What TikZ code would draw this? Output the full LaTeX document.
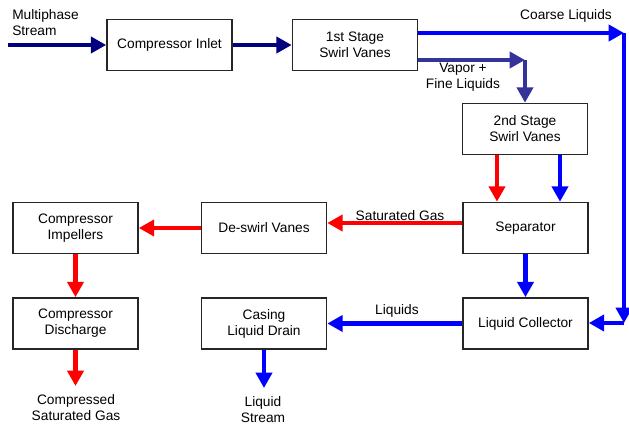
\documentclass[tikz,border=0pt]{standalone}
\usepackage{fontspec}
\setmainfont{Liberation Sans}
\usetikzlibrary{arrows.meta}
\definecolor{navyc}{HTML}{000080}
\definecolor{vapc}{HTML}{333399}
\definecolor{bluec}{HTML}{0000FF}
\definecolor{redc}{HTML}{FF0000}
\begin{document}
\begin{tikzpicture}[x=0.75pt,y=-0.75pt,
  box/.style={draw=black!85,line width=1.2pt,fill=white,minimum width=93.75pt,minimum height=38.25pt,inner sep=0pt,align=center,font=\fontsize{10.3}{12}\selectfont},
  lbl/.style={font=\fontsize{10.3}{12}\selectfont,align=center,inner sep=0pt},
  flow/.style={line width=3.3pt,-{Triangle[length=11.5pt,width=12pt]}}]
\useasboundingbox (0,0) rectangle (629,430);
% boxes
\node[box] (inlet) at (169.5,45) {Compressor Inlet};
\node[box] (s1) at (355,45) {1st Stage\\Swirl Vanes};
\node[box] (s2) at (525,129) {2nd Stage\\Swirl Vanes};
\node[box] (sep) at (525.5,228) {Separator};
\node[box] (coll) at (525.5,323.5) {Liquid Collector};
\node[box] (desw) at (264,228) {De-swirl Vanes};
\node[box] (imp) at (75.5,228) {Compressor\\Impellers};
\node[box] (dis) at (75.5,323.5) {Compressor\\Discharge};
\node[box] (drain) at (264,323.5) {Casing\\Liquid Drain};
% helper coordinates
\coordinate (m0) at (8,45);
\coordinate (c1) at (624,33);
\coordinate (c2) at (624,323);
\coordinate (v1) at (525,60);
\coordinate (xr) at (497,0);
\coordinate (xb) at (560,0);
\coordinate (ysg) at (0,223);
\coordinate (out1) at (75.5,386);
\coordinate (out2) at (264,388);
% connectors
\draw[flow,navyc] (m0) -- (inlet.west);
\draw[flow,navyc] (inlet.east) -- (s1.west);
\draw[flow,bluec] (s1.east |- c1) -- (c1);
\draw[flow,bluec] (c1) -- (c2);
\draw[flow,bluec] (c2) -- (coll.east |- c2);
\draw[flow,vapc] (s1.east |- v1) -- (v1);
\draw[flow,vapc] (v1) -- (s2.north);
\draw[flow,redc] (s2.south -| xr) -- (sep.north -| xr);
\draw[flow,bluec] (s2.south -| xb) -- (sep.north -| xb);
\draw[flow,redc] (sep.west |- ysg) -- (desw.east |- ysg);
\draw[flow,redc] (desw.west) -- (imp.east);
\draw[flow,redc] (imp.south) -- (dis.north);
\draw[flow,redc] (dis.south) -- (out1);
\draw[flow,bluec] (sep.south) -- (coll.north);
\draw[flow,bluec] (coll.west) -- (drain.east);
\draw[flow,bluec] (drain.south) -- (out2);
% labels
\node[lbl,align=left,anchor=west] (lms) at (12,23) {Multiphase\\Stream};
\node[lbl] (lcl) at (566,16) {Coarse Liquids};
\node[lbl] (lvf) at (463,77) {Vapor +\\Fine Liquids};
\node[lbl] (lsg) at (400,216) {Saturated Gas};
\node[lbl] (lliq) at (397,311) {Liquids};
\node[lbl] (lcsg) at (76,408) {Compressed\\Saturated Gas};
\node[lbl] (lls) at (263,410) {Liquid\\Stream};
\end{tikzpicture}
\end{document}
